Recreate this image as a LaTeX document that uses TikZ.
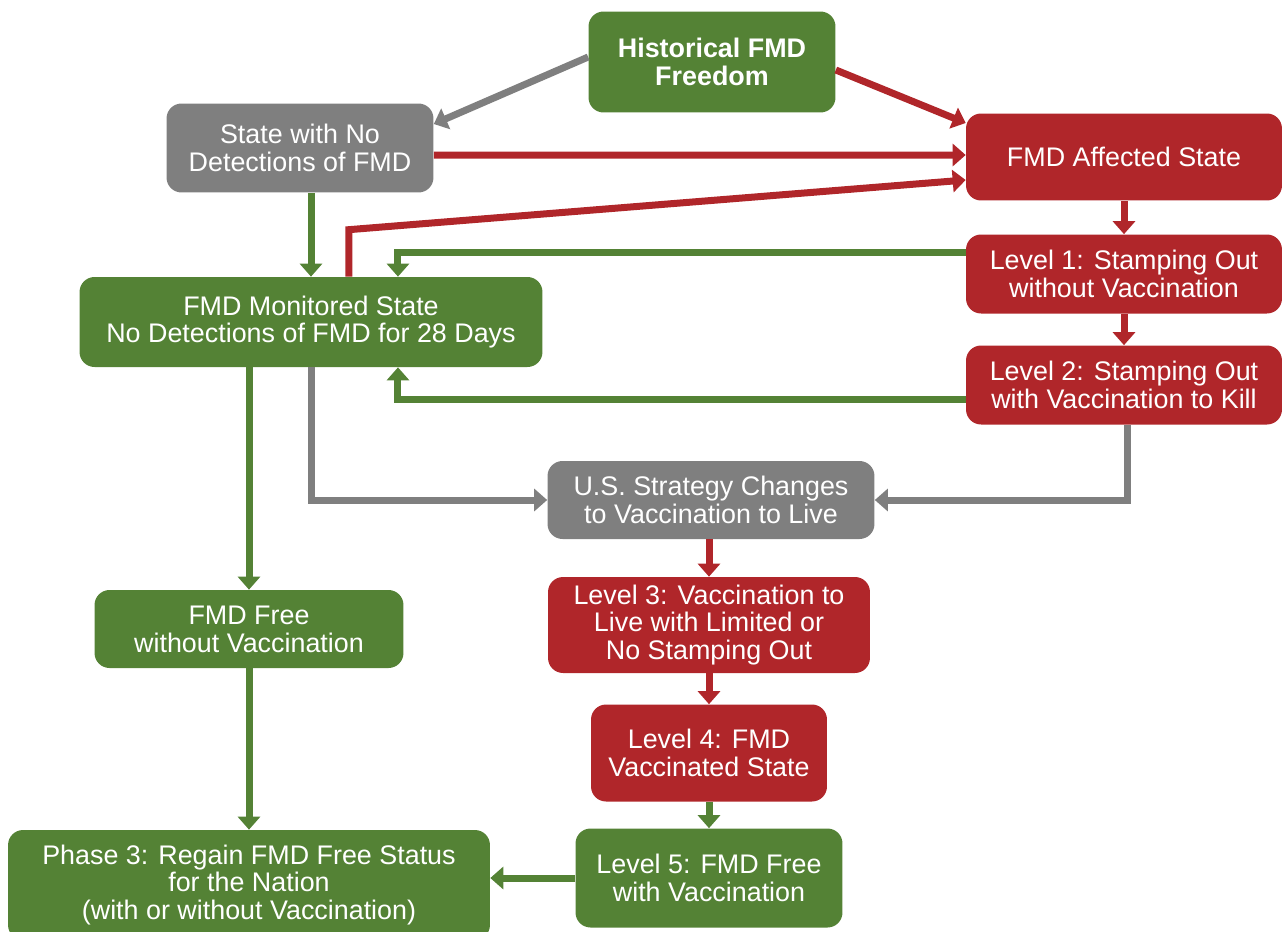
\documentclass[tikz,border=0pt]{standalone}
\usepackage{fontspec}
\setmainfont{Liberation Sans}
\usetikzlibrary{arrows.meta, positioning, calc}
\definecolor{fmdgreen}{RGB}{84,130,53}
\definecolor{fmdred}{RGB}{176,38,42}
\definecolor{fmdgray}{RGB}{127,127,127}
\tikzset{
  state/.style={
    rectangle, rounded corners=0.3cm, align=center, text=white, inner sep=0pt,
    font=\fontsize{15.3}{15.8}\selectfont
  },
  greenbox/.style={state, fill=fmdgreen},
  redbox/.style={state, fill=fmdred},
  graybox/.style={state, fill=fmdgray},
  flow/.style={
    -{Triangle[width=0.44cm,length=0.26cm]}, line width=0.14cm
  },
  gflow/.style={flow, draw=fmdgreen},
  rflow/.style={flow, draw=fmdred},
  yflow/.style={flow, draw=fmdgray}
}

\begin{document}
\begin{tikzpicture}[x=0.02cm, y=-0.02cm]
  \useasboundingbox (0,0) rectangle (1286,931);

  % Top row
  \node[greenbox, minimum width=4.94cm, minimum height=2.02cm, font=\fontsize{15.3}{15.8}\selectfont\bfseries] (hff) at (712,62) {Historical FMD\\Freedom};
  \node[graybox, minimum width=5.34cm, minimum height=1.78cm] (snd) at (300,148) {State with No\\Detections of FMD};

  % Right column (outbreak levels)
  \node[redbox, minimum width=6.32cm, minimum height=1.74cm] (fas) at (1124,157) {FMD Affected State};
  \node[redbox, minimum width=6.32cm, minimum height=1.58cm] (lone) at (1124,274) {Level 1: Stamping Out\\without Vaccination};
  \node[redbox, minimum width=6.32cm, minimum height=1.58cm] (ltwo) at (1124,385) {Level 2: Stamping Out\\with Vaccination to Kill};

  % Left column
  \node[greenbox, minimum width=9.26cm, minimum height=1.8cm] (mon) at (311,322) {FMD Monitored State\\No Detections of FMD for 28 Days};
  \node[greenbox, minimum width=6.18cm, minimum height=1.56cm] (free) at (249,629) {FMD Free\\without Vaccination};
  \node[greenbox, minimum width=9.64cm, minimum height=2.2cm] (phase) at (249,885) {Phase 3: Regain FMD Free Status\\for the Nation\\(with or without Vaccination)};

  % Middle column (vaccination to live)
  \node[graybox, minimum width=6.54cm, minimum height=1.56cm] (usc) at (711,500) {U.S. Strategy Changes\\to Vaccination to Live};
  \node[redbox, minimum width=6.44cm, minimum height=1.92cm] (lthree) at (709,625) {Level 3: Vaccination to\\Live with Limited or\\No Stamping Out};
  \node[redbox, minimum width=4.72cm, minimum height=1.94cm] (lfour) at (709,753) {Level 4: FMD\\Vaccinated State};
  \node[greenbox, minimum width=5.34cm, minimum height=1.98cm] (lfive) at (709,878) {Level 5: FMD Free\\with Vaccination};

  % Flows into the affected state
  \draw[yflow] ([yshift=0.1cm]hff.west) -- ([yshift=0.48cm]snd.east);
  \draw[rflow] ([yshift=-0.16cm]hff.east) -- ([yshift=0.68cm]fas.west);
  \draw[rflow] ([yshift=-0.14cm]snd.east) -- ([yshift=0.04cm]fas.west);
  \draw[rflow] ([xshift=0.76cm]mon.north) -- ++(0,-47) -- ([yshift=-0.46cm]fas.west);

  % Down the right column
  \draw[rflow] (fas.south) -- (lone.north);
  \draw[rflow] (lone.south) -- (ltwo.north);

  % Back to the monitored state
  \draw[gflow] (snd.south -| mon.north) -- (mon.north);
  \draw[gflow] ([yshift=0.43cm]lone.west) -| ([xshift=1.74cm]mon.north);
  \draw[gflow] ([yshift=-0.29cm]ltwo.west) -| ([xshift=1.74cm]mon.south);

  % Strategy change
  \draw[yflow] (mon.south) |- (usc.west);
  \draw[yflow] ([xshift=0.06cm]ltwo.south) |- (usc.east);
  \draw[rflow] (usc.south -| lthree.north) -- (lthree.north);
  \draw[rflow] (lthree.south) -- (lfour.north);
  \draw[gflow] (lfour.south) -- (lfive.north);

  % Regaining free status
  \draw[gflow] (mon.south -| free.north) -- (free.north);
  \draw[gflow] (free.south) -- (phase.north);
  \draw[gflow] (lfive.west) -- (lfive.west -| phase.east);
\end{tikzpicture}
\end{document}
